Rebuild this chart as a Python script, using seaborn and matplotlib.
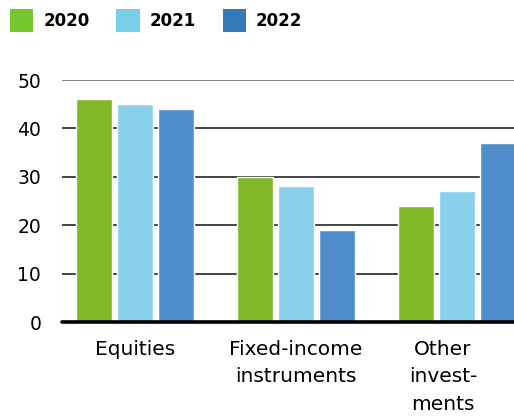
import matplotlib
matplotlib.use("Agg")
import matplotlib.pyplot as plt
import matplotlib.transforms as mtransforms
from matplotlib.patches import Patch
import seaborn as sns
import pandas as pd

categories = ["Equities", "Fixed-income\ninstruments", "Other\ninvest-\nments"]
years = ["2020", "2021", "2022"]
values_2020 = [46, 30, 24]
values_2021 = [45, 28, 27]
values_2022 = [44, 19, 37]

bar_colors = ["#80B82A", "#88D0EC", "#508ECB"]
legend_colors = ["#76C72F", "#77CFEA", "#3679B8"]

rows = []
for yr, vals in zip(years, [values_2020, values_2021, values_2022]):
    for c, v in zip(categories, vals):
        rows.append({"category": c, "year": yr, "value": v})
df = pd.DataFrame(rows)

sns.set_theme(style="white")
plt.rcParams["font.family"] = ["DejaVu Sans"]
plt.rcParams["text.color"] = "#000000"

fig = plt.figure(figsize=(5.14, 4.16), dpi=100)
ax = fig.add_axes([62/514, 1-322/416, 1-62/514, (322-80)/416])

sns.barplot(data=df, x="category", y="value", hue="year", order=categories,
            hue_order=years, palette=bar_colors, width=0.764, gap=0.12,
            saturation=1, ax=ax, legend=False, zorder=3)

ax.set_xlim(-0.453, 2.354)
ax.set_ylim(0, 50)
ax.set_yticks([0, 10, 20, 30, 40, 50])
for y in [10, 20, 30, 40]:
    ax.axhline(y, color="#111111", lw=1.1, zorder=1)
ax.axhline(50, color="#777777", lw=1.3, zorder=1)
ax.axhline(0, color="#000000", lw=2.6, zorder=4, clip_on=False)
for s in ax.spines.values():
    s.set_visible(False)
ax.set_xlabel("")
ax.set_ylabel("")
ax.tick_params(axis="y", length=0, pad=15, labelsize=13.5, labelcolor="#000000")
ax.tick_params(axis="x", length=0, pad=13, labelsize=14.5, labelcolor="#000000")
for lab in ax.get_xticklabels():
    lab.set_linespacing(1.55)
    lab.set_verticalalignment("top")
labs = ax.get_xticklabels()
labs[2].set_transform(labs[2].get_transform() +
                      mtransforms.ScaledTranslation(-14/100, 0, fig.dpi_scale_trans))

handles = [Patch(facecolor=c, edgecolor="none", label=y) for c, y in zip(legend_colors, years)]
leg = fig.legend(handles=handles, loc="upper left", bbox_to_anchor=(10/514, 1-9/416), ncol=3,
                 frameon=False, borderpad=0, borderaxespad=0, handlelength=1.4, handleheight=1.7,
                 handletextpad=0.6, columnspacing=1.6, prop={"weight": "bold", "size": 12},
                 labelcolor="#000000")

fig.savefig("out.png", dpi=100)
